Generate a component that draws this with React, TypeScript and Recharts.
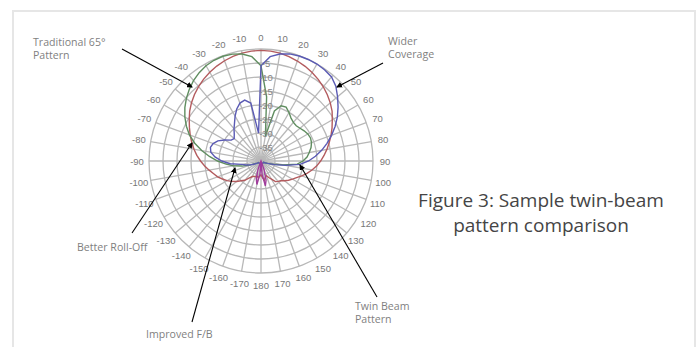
import React from "react";
import { PolarAngleAxis, PolarGrid, PolarRadiusAxis, Radar, RadarChart } from "recharts";

// Azimuth in degrees, clockwise from boresight (0 at the top).
const ANGLES = [
  0, 5, 10, 15, 20, 25, 30, 35, 40, 45, 50, 55, 60, 65, 70, 75, 80, 85,
  90, 95, 100, 105, 110, 115, 120, 125, 130, 135, 140, 145, 150, 155, 160, 165, 170, 175,
  180, 185, 190, 195, 200, 205, 210, 215, 220, 225, 230, 235, 240, 245, 250, 255, 260, 265,
  270, 275, 280, 285, 290, 295, 300, 305, 310, 315, 320, 325, 330, 335, 340, 345, 350, 355,
];

// Relative gain in dB, one value per angle above.
const TRADITIONAL_DB = [
  -0.5, -0.6, -0.9, -1.4, -2.0, -2.7, -3.5, -4.4, -5.4, -6.5, -7.7, -9.0, -10.6, -12.0, -13.4, -14.8, -16.1, -17.4,
  -18.7, -20.0, -21.5, -23.0, -24.5, -26.0, -27.0, -28.0, -29.0, -30.0, -30.5, -31.0, -32.5, -33.5, -34.5, -34.0, -33.0, -34.0,
  -35.0, -34.5, -34.0, -34.5, -34.0, -34.0, -33.5, -32.5, -31.0, -30.0, -28.6, -27.3, -26.0, -24.8, -23.5, -22.5, -21.2, -19.8,
  -18.4, -17.0, -15.7, -14.4, -13.1, -11.8, -10.4, -8.9, -7.6, -6.4, -5.3, -4.3, -3.4, -2.6, -1.9, -1.3, -0.9, -0.6,
];

const LEFT_BEAM_DB = [
  -6, -17, -31, -21.5, -19, -18.8, -20, -21.3, -22, -22.2, -21.8, -21.2, -20.7, -20.5, -20.8, -21.5, -22.5, -23.5,
  -25, -27, -32, -35.5, -37.5, -38.5, -39, -39, -39, -39, -39, -39, -39, -39, -39, -39, -39, -39,
  -39, -39, -39, -39, -39, -39, -39, -39, -39, -39, -39, -39, -38.5, -38, -36, -33, -30, -27.5,
  -24.5, -21.5, -18.5, -15.5, -12.8, -10.6, -8.6, -6.8, -5.2, -3.8, -2.5, -1.5, -0.7, -0.3, -0.2, -0.5, -1.2, -2.6,
];

const RIGHT_BEAM_DB = [
  -6, -2.6, -1.2, -0.4, -0.1, 0, 0, -0.3, -0.8, -2.2, -4.3, -6.4, -8.5, -10.8, -13.2, -15.6, -18, -20.5,
  -23, -26, -31, -35, -37.5, -38.5, -39, -39, -39, -39, -39, -39, -39, -39, -39, -39, -39, -39,
  -39, -39, -39, -39, -39, -39, -39, -39, -39, -39, -39, -39, -38.5, -37.5, -36, -34.5, -33, -29,
  -26, -23.5, -21.8, -21.3, -21.8, -23, -25, -27, -27.5, -26.5, -25, -23.5, -21.5, -19.5, -18, -17.5, -19, -30,
];

const REAR_LOBE_DB = [
  -40, -40, -40, -40, -40, -40, -40, -40, -40, -40, -40, -40, -40, -40, -40, -40, -40, -40,
  -40, -40, -40, -40, -40, -40, -40, -40, -40, -40, -40, -40, -40, -40, -37, -33, -31, -35,
  -39, -35, -31.5, -33.5, -37, -40, -40, -40, -40, -40, -40, -40, -40, -40, -40, -40, -40, -40,
  -40, -40, -40, -40, -40, -40, -40, -40, -40, -40, -40, -40, -40, -40, -40, -40, -40, -40,
];

const RADIUS_TICKS = [-40, -35, -30, -25, -20, -15, -10, -5, 0];
const SPOKES = [
  0, 10, 20, 30, 40, 50, 60, 70, 80, 90, 100, 110, 120, 130, 140, 150, 160, 170,
  180, 190, 200, 210, 220, 230, 240, 250, 260, 270, 280, 290, 300, 310, 320, 330, 340, 350,
];

const W = 699;
const H = 347;
const CX = 261;
const CY = 161;
const OUTER = 112;

const data = ANGLES.map((angle, i) => ({
  angle,
  traditional: TRADITIONAL_DB[i],
  left: LEFT_BEAM_DB[i],
  right: RIGHT_BEAM_DB[i],
  rear: REAR_LOBE_DB[i],
}));

const tickFont = "'Liberation Sans', Arial, sans-serif";
const noteFont = "'Open Sans', 'Noto Sans', sans-serif";

function AngleTick(props: any) {
  const { x, y, payload } = props;
  const v = Number(payload.value);
  if (v % 10 !== 0) return null;
  const label = v <= 180 ? v : v - 360;
  return (
    <text x={x} y={y} textAnchor="middle" dominantBaseline="central" fontSize={9.5} fill="#777" fontFamily={tickFont}>
      {label}
    </text>
  );
}

function RadiusTick(props: any) {
  const { x, y, payload } = props;
  const v = Number(payload.value);
  if (v <= -40 || v >= 0) return null;
  return (
    <text x={x + 5} y={y} textAnchor="middle" dominantBaseline="central" fontSize={9.5} fill="#848484" fontFamily={tickFont}>
      {v}
    </text>
  );
}

function Note({ x, y, lines }: { x: number; y: number; lines: string[] }) {
  return (
    <text x={x} y={y} fontSize={10.6} fill="#7f7f7f" fontFamily={noteFont}>
      {lines.map((l, i) => (
        <tspan key={i} x={x} dy={i === 0 ? 0 : 13}>
          {l}
        </tspan>
      ))}
    </text>
  );
}

export default function App() {
  const rings = RADIUS_TICKS.slice(1).map((t) => (OUTER * (t + 40)) / 40);
  return (
    <div style={{ position: "relative", width: W, height: H, background: "#fff" }}>
      <style>{"body{margin:0}"}</style>
      <svg width={W} height={H} style={{ position: "absolute", left: 0, top: 0 }}>
        <rect x={13} y={11} width={682} height={360} fill="#fff" stroke="#e6e6e6" strokeWidth={2} />
      </svg>
      <div style={{ position: "absolute", left: 0, top: 0 }}>
        <RadarChart
          width={W}
          height={H}
          data={data}
          cx={CX}
          cy={CY}
          outerRadius={OUTER}
          startAngle={90}
          endAngle={-270}
          margin={{ top: 0, right: 0, bottom: 0, left: 0 }}
        >
          <PolarGrid
            gridType="circle"
            stroke="#b8b8b8"
            strokeWidth={1.3}
            polarAngles={SPOKES.map((a) => 90 - a)}
            polarRadius={rings}
          />
          <PolarAngleAxis dataKey="angle" tick={AngleTick} tickLine={false} axisLine={false} tickSize={12} />
          <PolarRadiusAxis
            angle={90}
            type="number"
            domain={[-40, 0]}
            tickCount={9}
            allowDataOverflow
            axisLine={false}
            tick={RadiusTick}
          />
          <Radar dataKey="traditional" stroke="#b35b5e" strokeWidth={1.4} fill="none" dot={false} isAnimationActive={false} />
          <Radar dataKey="left" stroke="#5f8d5f" strokeWidth={1.4} fill="none" dot={false} isAnimationActive={false} />
          <Radar dataKey="right" stroke="#5a5ab4" strokeWidth={1.4} fill="none" dot={false} isAnimationActive={false} />
          <Radar dataKey="rear" stroke="#a03c9c" strokeWidth={1.4} fill="none" dot={false} isAnimationActive={false} />
        </RadarChart>
      </div>
      <svg width={W} height={H} style={{ position: "absolute", left: 0, top: 0, pointerEvents: "none" }}>
        <defs>
          <marker id="ah" markerWidth={6} markerHeight={6} refX={5} refY={3} orient="auto" markerUnits="userSpaceOnUse">
            <path d="M0,0 L6,3 L0,6 z" fill="#000" />
          </marker>
        </defs>
        <g stroke="#000" strokeWidth={1.1} markerEnd="url(#ah)">
          <line x1={122} y1={49} x2={192} y2={87} />
          <line x1={383} y1={63} x2={337} y2={87} />
          <line x1={132} y1={233} x2={192} y2={143} />
          <line x1={192} y1={322} x2={235} y2={168} />
          <line x1={377} y1={297} x2={300} y2={165} />
        </g>
        <Note x={33} y={46} lines={["Traditional 65°", "Pattern"]} />
        <Note x={388} y={45} lines={["Wider", "Coverage"]} />
        <Note x={77} y={251} lines={["Better Roll-Off"]} />
        <Note x={146} y={338} lines={["Improved F/B"]} />
        <Note x={355} y={310} lines={["Twin Beam", "Pattern"]} />
        <text x={541} y={207} textAnchor="middle" fontSize={19} fill="#454545" fontFamily={noteFont}>
          Figure 3: Sample twin-beam
        </text>
        <text x={541} y={232} textAnchor="middle" fontSize={19} fill="#454545" fontFamily={noteFont}>
          pattern comparison
        </text>
      </svg>
    </div>
  );
}
